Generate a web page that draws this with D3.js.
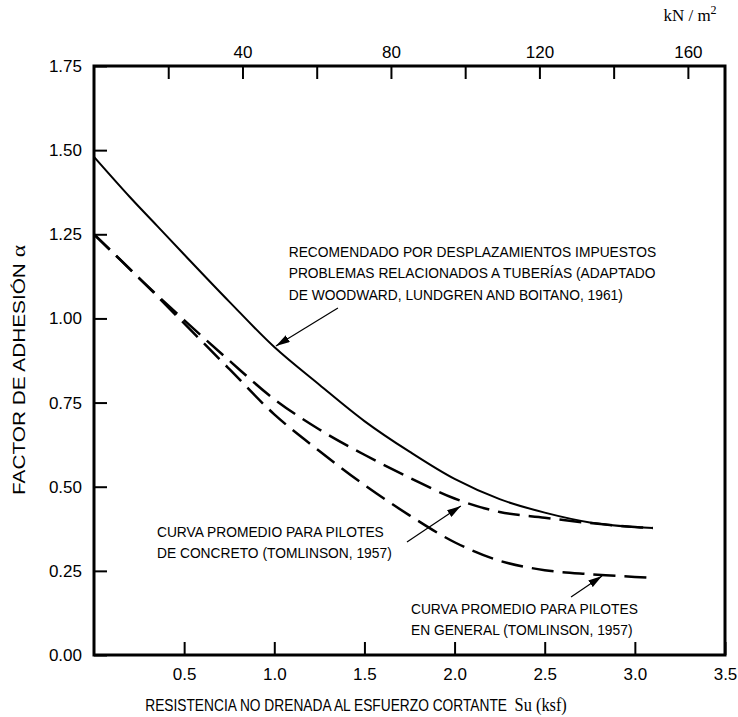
<!DOCTYPE html>
<html>
<head>
<meta charset="utf-8">
<script src="https://cdn.jsdelivr.net/npm/d3@7"></script>
<style>
  body { margin: 0; background: #fff; }
  svg text { fill: #000; }
</style>
</head>
<body>
<div id="chart"></div>
<script>
// Su (ksf) vs adhesion factor
const suWoodward = [0, 0.2, 0.35, 0.5, 0.75, 1.0, 1.25, 1.5, 1.75, 2.0, 2.25, 2.5, 2.75, 3.0, 3.1];
const alphaWoodward = [1.48, 1.36, 1.275, 1.19, 1.05, 0.915, 0.803, 0.695, 0.604, 0.523, 0.463, 0.423, 0.394, 0.380, 0.377];

const suConcrete = [0, 0.25, 0.5, 0.75, 1.0, 1.25, 1.5, 1.75, 2.0, 2.25, 2.5, 2.75, 3.0, 3.1];
const alphaConcrete = [1.25, 1.12, 0.995, 0.875, 0.76, 0.67, 0.595, 0.527, 0.465, 0.425, 0.408, 0.392, 0.380, 0.377];

const suGeneral = [0, 0.25, 0.5, 0.75, 1.0, 1.25, 1.5, 1.75, 2.0, 2.25, 2.5, 2.75, 3.0, 3.1];
const alphaGeneral = [1.25, 1.12, 0.985, 0.85, 0.715, 0.606, 0.505, 0.415, 0.335, 0.28, 0.252, 0.24, 0.232, 0.229];

const xTicks = [0.5, 1.0, 1.5, 2.0, 2.5, 3.0, 3.5];
const yTicks = [0, 0.25, 0.5, 0.75, 1.0, 1.25, 1.5, 1.75];
const kNTicks = [20, 40, 60, 80, 100, 120, 140, 160];
const kNLabels = [40, 80, 120, 160];

const annotations = [
  { lines: ['RECOMENDADO POR DESPLAZAMIENTOS IMPUESTOS',
            'PROBLEMAS RELACIONADOS A TUBERÍAS (ADAPTADO',
            'DE WOODWARD, LUNDGREN AND BOITANO, 1961)'],
    text: [1.08, 1.183], from: [1.353, 1.031], to: [1.009, 0.918] },
  { lines: ['CURVA PROMEDIO PARA PILOTES', 'DE CONCRETO (TOMLINSON, 1957)'],
    text: [0.349, 0.351], from: [1.736, 0.336], to: [2.035, 0.443] },
  { lines: ['CURVA PROMEDIO PARA PILOTES', 'EN GENERAL (TOMLINSON, 1957)'],
    text: [1.758, 0.122], from: [2.646, 0.172], to: [2.818, 0.235] }
];

const width = 738, height = 717;
const margin = { top: 66, right: 13, bottom: 62, left: 94 };
const sans = 'Arial, "Liberation Sans", sans-serif';
const serif = '"Times New Roman", "Liberation Serif", serif';
const squeeze = 0.92; // the scanned lettering is narrow

const svg = d3.select('#chart').append('svg')
  .attr('width', width)
  .attr('height', height);

const x = d3.scaleLinear().domain([0, 3.5]).range([margin.left, width - margin.right]);
const xKn = d3.scaleLinear().domain([0, 170]).range([margin.left, width - margin.right]);
const y = d3.scaleLinear().domain([0, 1.75]).range([height - margin.bottom, margin.top]);

// arrow head
svg.append('defs').append('marker')
  .attr('id', 'arrow')
  .attr('markerUnits', 'userSpaceOnUse')
  .attr('viewBox', '0 0 14 8')
  .attr('refX', 14).attr('refY', 4)
  .attr('markerWidth', 14).attr('markerHeight', 8)
  .attr('orient', 'auto')
  .append('path')
  .attr('d', 'M0,0 L14,4 L0,8 Z')
  .attr('fill', '#000');

// axes, ticks pointing inward
const styleAxis = g => {
  g.select('.domain').remove();
  g.selectAll('.tick line').attr('stroke', '#000').attr('stroke-width', 2);
  g.selectAll('.tick text').attr('font-family', sans).attr('font-size', 17);
};

svg.append('g')
  .attr('transform', `translate(${margin.left},0)`)
  .call(d3.axisLeft(y).tickValues(yTicks).tickSize(-13).tickPadding(12).tickFormat(d3.format('.2f')))
  .call(styleAxis);

svg.append('g')
  .attr('transform', `translate(0,${height - margin.bottom})`)
  .call(d3.axisBottom(x).tickValues(xTicks).tickSize(-13).tickPadding(13).tickFormat(d3.format('.1f')))
  .call(styleAxis);

svg.append('g')
  .attr('transform', `translate(0,${margin.top})`)
  .call(d3.axisTop(xKn).tickValues(kNTicks).tickSize(-13).tickPadding(8)
    .tickFormat(d => kNLabels.includes(d) ? d : ''))
  .call(styleAxis);

// frame
svg.append('rect')
  .attr('x', margin.left)
  .attr('y', margin.top)
  .attr('width', width - margin.left - margin.right)
  .attr('height', height - margin.top - margin.bottom)
  .attr('fill', 'none')
  .attr('stroke', '#000')
  .attr('stroke-width', 3);

// curves
const line = d3.line().x(d => x(d[0])).y(d => y(d[1])).curve(d3.curveCatmullRom.alpha(0.5));

svg.append('path')
  .datum(d3.zip(suWoodward, alphaWoodward))
  .attr('d', line)
  .attr('fill', 'none')
  .attr('stroke', '#000')
  .attr('stroke-width', 2);

svg.append('path')
  .datum(d3.zip(suConcrete, alphaConcrete))
  .attr('d', line)
  .attr('fill', 'none')
  .attr('stroke', '#000')
  .attr('stroke-width', 2.5)
  .attr('stroke-dasharray', '22,9');

svg.append('path')
  .datum(d3.zip(suGeneral, alphaGeneral))
  .attr('d', line)
  .attr('fill', 'none')
  .attr('stroke', '#000')
  .attr('stroke-width', 2.5)
  .attr('stroke-dasharray', '22,9');

// annotations
annotations.forEach(a => {
  const t = svg.append('g')
    .attr('transform', `translate(${x(a.text[0])},${y(a.text[1])}) scale(${squeeze},1)`)
    .append('text')
    .attr('font-family', sans)
    .attr('font-size', 15);
  a.lines.forEach((l, i) => {
    t.append('tspan').attr('x', 0).attr('dy', i ? 21.5 : 0).text(l);
  });
  svg.append('line')
    .attr('x1', x(a.from[0])).attr('y1', y(a.from[1]))
    .attr('x2', x(a.to[0])).attr('y2', y(a.to[1]))
    .attr('stroke', '#000')
    .attr('stroke-width', 1.2)
    .attr('marker-end', 'url(#arrow)');
});

// axis titles
const yTitle = svg.append('g')
  .attr('transform', 'translate(25,370) rotate(-90) scale(1.3,1)')
  .append('text')
  .attr('text-anchor', 'middle')
  .attr('font-family', sans)
  .attr('font-size', 16);
yTitle.append('tspan').text('FACTOR DE ADHESIÓN ');
yTitle.append('tspan').attr('font-family', serif).attr('font-size', 18).text('α');

const xTitle = svg.append('g')
  .attr('transform', 'translate(356,711) scale(0.86,1)')
  .append('text')
  .attr('text-anchor', 'middle')
  .attr('font-family', sans)
  .attr('font-size', 16);
xTitle.append('tspan').text('RESISTENCIA NO DRENADA AL ESFUERZO CORTANTE\u00a0\u00a0');
xTitle.append('tspan').attr('font-family', serif).attr('font-size', 19).text('Su (ksf)');

const unit = svg.append('text')
  .attr('x', 690)
  .attr('y', 21)
  .attr('text-anchor', 'middle')
  .attr('font-family', serif)
  .attr('font-size', 17);
unit.append('tspan').text('kN / m');
unit.append('tspan').attr('font-size', 12).attr('dy', -7).text('2');
</script>
</body>
</html>
